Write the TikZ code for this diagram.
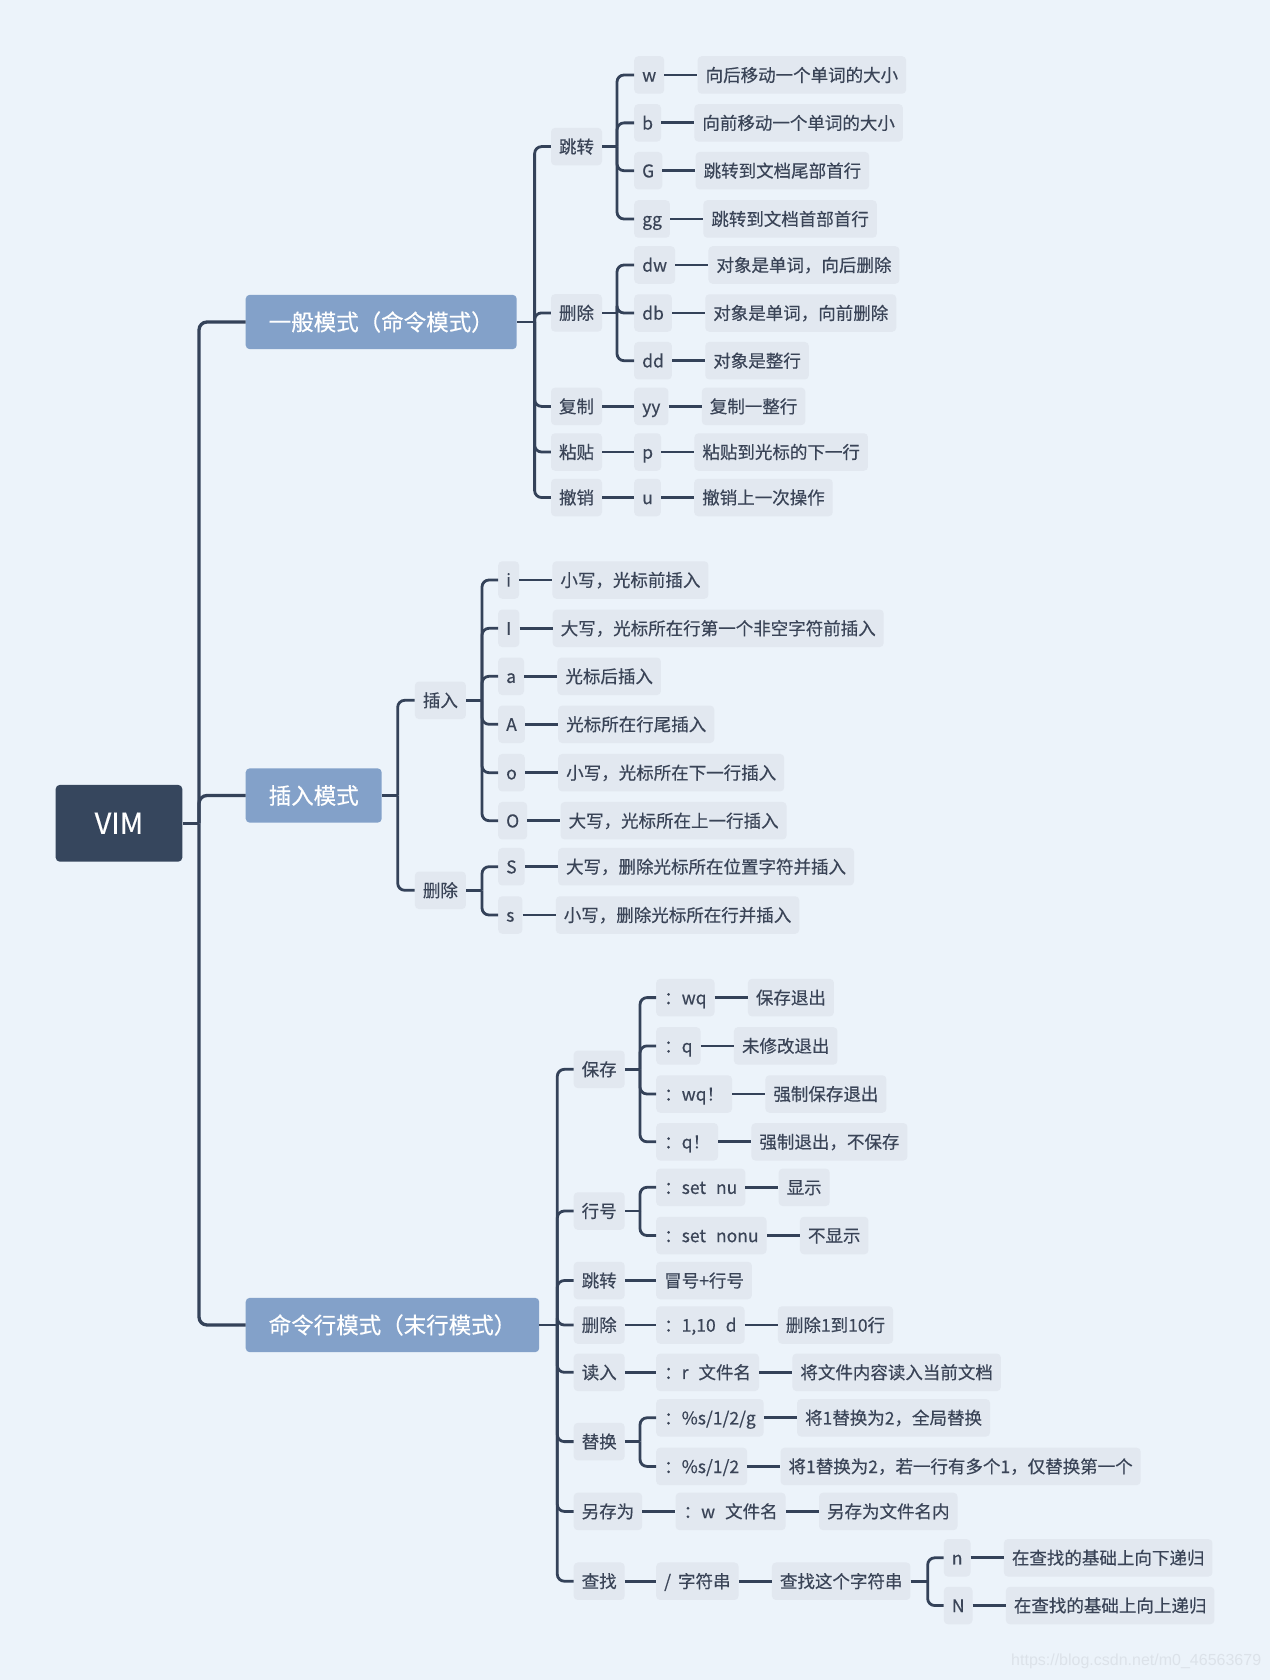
\documentclass[tikz,border=0pt]{standalone}
\usepackage{fontspec}
\setmainfont{Noto Sans CJK SC}[RawFeature={embolden=0.4}]
\newfontfamily\wmfont{Liberation Sans}
\usetikzlibrary{positioning,calc}
\definecolor{bgc}{HTML}{ECF3FA}
\definecolor{linec}{HTML}{344259}
\definecolor{rootc}{HTML}{36465D}
\definecolor{modec}{HTML}{83A1C9}
\definecolor{boxc}{HTML}{E2E8F0}
\definecolor{txtc}{HTML}{3A4457}
\definecolor{wmc}{HTML}{DCE2E9}
\newcommand\branchto[3]{%
  \draw[link] (#1.east) -- (#1.east -| #2,0);
  \foreach \c in {#3} {\draw[link,rounded corners=7pt] (#1.east -| #2,0) |- (\c.west);}
}
\begin{document}
\begin{tikzpicture}[x=1pt,y=-1pt,
  rootbox/.style={fill=rootc, rounded corners=4pt, text=white, font=\fontsize{29}{29}\selectfont,
    minimum width=126.6pt, minimum height=76.7pt, inner sep=0pt},
  modebox/.style={fill=modec, rounded corners=4pt, text=white, font=\fontsize{22.5}{22.5}\selectfont,
    minimum height=54.3pt, inner xsep=23pt, inner ysep=0pt, text height=19.8pt, text depth=2.7pt, anchor=west},
  leaf/.style={fill=boxc, rounded corners=4pt, text=txtc, font=\fontsize{17.5}{17.5}\selectfont,
    minimum height=37.5pt, inner xsep=8pt, inner ysep=0pt, text height=15.4pt, text depth=2.1pt, anchor=west},
  link/.style={draw=linec, line width=2.8pt},
  trunk/.style={draw=linec, line width=3.3pt, rounded corners=8pt},
]
\fill[bgc] (0,0) rectangle (1270,1680);
\useasboundingbox (0,0) rectangle (1270,1680);

% root and modes
\node[rootbox] (root) at (119,823.3) {VIM};
\node[modebox] (m1) at (245.5,322) {一般模式（命令模式）};
\node[modebox] (m2) at (245.5,795.5) {插入模式};
\node[modebox] (m3) at (245.5,1325) {命令行模式（末行模式）};

\draw[trunk] (root.east) -- (199,823.3);
\draw[trunk] (199,823.3) |- (m1.west);
\draw[trunk] (199,823.3) |- (m2.west);
\draw[trunk] (199,823.3) |- (m3.west);

% ---------- mode 1 ----------
\node[leaf] (a1) at (550.8,146.6) {跳转};
\node[leaf] (a2) at (550.8,312.9) {删除};
\node[leaf] (a3) at (550.8,406.4) {复制};
\node[leaf] (a4) at (550.8,452) {粘贴};
\node[leaf] (a5) at (550.8,497.5) {撤销};
\branchto{m1}{534.6}{a1,a2,a3,a4,a5}

\node[leaf] (a1w) at (634,75) {w};
\node[leaf] (a1b) at (634,122.9) {b};
\node[leaf] (a1G) at (634,170.7) {G};
\node[leaf] (a1gg) at (634,219) {gg};
\branchto{a1}{617}{a1w,a1b,a1G,a1gg}
\node[leaf,right=33pt of a1w] (a1wd) {向后移动一个单词的大小};
\node[leaf,right=33pt of a1b] (a1bd) {向前移动一个单词的大小};
\node[leaf,right=33pt of a1G] (a1Gd) {跳转到文档尾部首行};
\node[leaf,right=33pt of a1gg] (a1ggd) {跳转到文档首部首行};

\node[leaf] (a2dw) at (634,265) {dw};
\node[leaf] (a2db) at (634,313) {db};
\node[leaf] (a2dd) at (634,360.7) {dd};
\branchto{a2}{617}{a2dw,a2db,a2dd}
\node[leaf,right=33pt of a2dw] (a2dwd) {对象是单词，向后删除};
\node[leaf,right=33pt of a2db] (a2dbd) {对象是单词，向前删除};
\node[leaf,right=33pt of a2dd] (a2ddd) {对象是整行};

\node[leaf] (a3yy) at (634,406.4) {yy};
\node[leaf,right=33pt of a3yy] (a3d) {复制一整行};
\node[leaf] (a4p) at (634,452) {p};
\node[leaf,right=33pt of a4p] (a4d) {粘贴到光标的下一行};
\node[leaf] (a5u) at (634,497.5) {u};
\node[leaf,right=33pt of a5u] (a5d) {撤销上一次操作};

\foreach \p/\q in {a1w/a1wd,a1b/a1bd,a1G/a1Gd,a1gg/a1ggd,a2dw/a2dwd,a2db/a2dbd,a2dd/a2ddd,
  a3/a3yy,a3yy/a3d,a4/a4p,a4p/a4d,a5/a5u,a5u/a5d}
  {\draw[link] (\p.east) -- (\q.west);}

% ---------- mode 2 ----------
\node[leaf] (b1) at (414.7,700.3) {插入};
\node[leaf] (b2) at (414.7,890.3) {删除};
\branchto{m2}{397.7}{b1,b2}

\node[leaf] (b1i) at (498,580) {i};
\node[leaf] (b1I) at (498,628.3) {I};
\node[leaf] (b1a) at (498,676.3) {a};
\node[leaf] (b1A) at (498,724.3) {A};
\node[leaf] (b1o) at (498,772.7) {o};
\node[leaf] (b1O) at (498,820.7) {O};
\branchto{b1}{482}{b1i,b1I,b1a,b1A,b1o,b1O}
\node[leaf,right=33pt of b1i] (b1id) {小写，光标前插入};
\node[leaf,right=33pt of b1I] (b1Id) {大写，光标所在行第一个非空字符前插入};
\node[leaf,right=33pt of b1a] (b1ad) {光标后插入};
\node[leaf,right=33pt of b1A] (b1Ad) {光标所在行尾插入};
\node[leaf,right=33pt of b1o] (b1od) {小写，光标所在下一行插入};
\node[leaf,right=33pt of b1O] (b1Od) {大写，光标所在上一行插入};

\node[leaf] (b2S) at (498,866.7) {S};
\node[leaf] (b2s) at (498,915) {s};
\branchto{b2}{482}{b2S,b2s}
\node[leaf,right=33pt of b2S] (b2Sd) {大写，删除光标所在位置字符并插入};
\node[leaf,right=33pt of b2s] (b2sd) {小写，删除光标所在行并插入};

\foreach \p/\q in {b1i/b1id,b1I/b1Id,b1a/b1ad,b1A/b1Ad,b1o/b1od,b1O/b1Od,b2S/b2Sd,b2s/b2sd}
  {\draw[link] (\p.east) -- (\q.west);}

% ---------- mode 3 ----------
\node[leaf] (c1) at (573.5,1069.3) {保存};
\node[leaf] (c2) at (573.5,1211) {行号};
\node[leaf] (c3) at (573.5,1280.5) {跳转};
\node[leaf] (c4) at (573.5,1325) {删除};
\node[leaf] (c5) at (573.5,1372.3) {读入};
\node[leaf] (c6) at (573.5,1441.6) {替换};
\node[leaf] (c7) at (573.5,1511.4) {另存为};
\node[leaf] (c8) at (573.5,1581.2) {查找};
\branchto{m3}{557.3}{c1,c2,c3,c4,c5,c6,c7,c8}

\node[leaf] (c1a) at (656,997.6) {：wq};
\node[leaf] (c1b) at (656,1045.9) {：q};
\node[leaf] (c1c) at (656,1094) {：wq！};
\node[leaf] (c1d) at (656,1141.8) {：q！};
\branchto{c1}{640}{c1a,c1b,c1c,c1d}
\node[leaf,right=33pt of c1a] (c1ad) {保存退出};
\node[leaf,right=33pt of c1b] (c1bd) {未修改退出};
\node[leaf,right=33pt of c1c] (c1cd) {强制保存退出};
\node[leaf,right=33pt of c1d] (c1dd) {强制退出，不保存};

\node[leaf] (c2a) at (656,1187.3) {：set\hspace{10pt}nu};
\node[leaf] (c2b) at (656,1235.5) {：set\hspace{10pt}nonu};
\branchto{c2}{640}{c2a,c2b}
\node[leaf,right=33pt of c2a] (c2ad) {显示};
\node[leaf,right=33pt of c2b] (c2bd) {不显示};

\node[leaf] (c3a) at (656,1280.5) {冒号+行号};
\node[leaf] (c4a) at (656,1325) {：1,10\hspace{10pt}d};
\node[leaf,right=33pt of c4a] (c4ad) {删除1到10行};
\node[leaf] (c5a) at (656,1372.3) {：r\hspace{10pt}文件名};
\node[leaf,right=33pt of c5a] (c5ad) {将文件内容读入当前文档};

\node[leaf] (c6a) at (656,1417.8) {：\%s/1/2/g};
\node[leaf] (c6b) at (656,1466.4) {：\%s/1/2};
\branchto{c6}{640}{c6a,c6b}
\node[leaf,right=33pt of c6a] (c6ad) {将1替换为2，全局替换};
\node[leaf,right=33pt of c6b] (c6bd) {将1替换为2，若一行有多个1，仅替换第一个};

\node[leaf,right=33pt of c7] (c7a) {：w\hspace{10pt}文件名};
\node[leaf,right=33pt of c7a] (c7ad) {另存为文件名内};

\node[leaf] (c8a) at (656,1581.2) {/\hspace{7pt}字符串};
\node[leaf,right=33pt of c8a] (c8b) {查找这个字符串};
\node[leaf,anchor=west] (c8n) at ($(c8b.east)+(33,-23.4)$) {n};
\node[leaf,anchor=west] (c8N) at ($(c8b.east)+(33,24.3)$) {N};
\coordinate (c8v) at ($(c8b.east)+(17,0)$);
\draw[link] (c8b.east) -- (c8v);
\draw[link,rounded corners=7pt] (c8v) |- (c8n.west);
\draw[link,rounded corners=7pt] (c8v) |- (c8N.west);
\node[leaf,right=33pt of c8n] (c8nd) {在查找的基础上向下递归};
\node[leaf,right=33pt of c8N] (c8Nd) {在查找的基础上向上递归};

\foreach \p/\q in {c1a/c1ad,c1b/c1bd,c1c/c1cd,c1d/c1dd,c2a/c2ad,c2b/c2bd,c3/c3a,c4a/c4ad,
  c5/c5a,c5a/c5ad,c6a/c6ad,c6b/c6bd,c7/c7a,c7a/c7ad,c8a/c8b,c8n/c8nd,c8N/c8Nd}
  {\draw[link] (\p.east) -- (\q.west);}
\draw[link] (c4.east) -- (c4a.west);
\draw[link] (c8.east) -- (c8a.west);

% watermark
\node[anchor=west, text=wmc, font=\wmfont\fontsize{16}{16}\selectfont, inner sep=0pt] (wm) at (1011,1661) {https://blog.csdn.net/m0\_46563679};
\end{tikzpicture}
\end{document}
